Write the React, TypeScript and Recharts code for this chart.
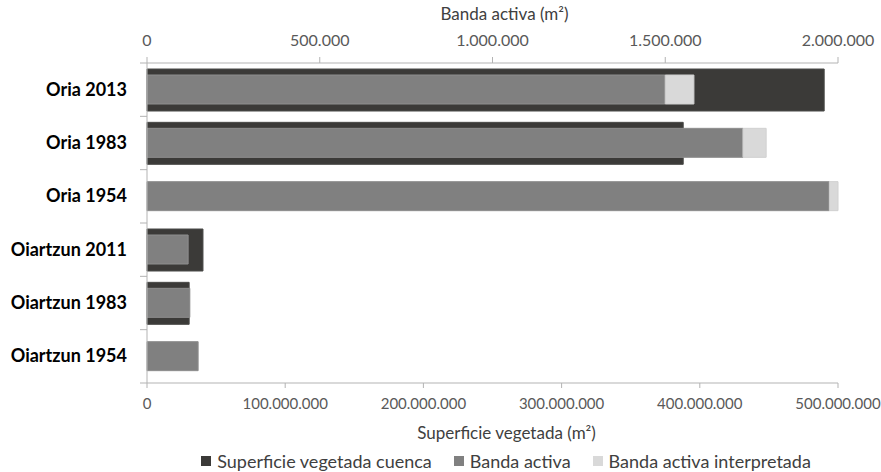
import { BarChart, Bar, XAxis, YAxis, Legend } from 'recharts';

const categories = ['Oria 2013', 'Oria 1983', 'Oria 1954', 'Oiartzun 2011', 'Oiartzun 1983', 'Oiartzun 1954'];
const superficieCuenca = [490000000, 388000000, null, 40500000, 30500000, null];
const bandaActiva = [1500000, 1725000, 1975000, 119000, 124000, 148000];
const bandaInterpretada = [83000, 67000, 25000, 0, 0, 0];
const topTicks = [0, 500000, 1000000, 1500000, 2000000];
const bottomTicks = [0, 100000000, 200000000, 300000000, 400000000, 500000000];
const seriesNames = ['Superficie vegetada cuenca', 'Banda activa', 'Banda activa interpretada'];
const seriesColors = ['#3b3a38', '#808080', '#d9d9d9'];

const data = categories.map((name, i) => ({
  name,
  cuenca: superficieCuenca[i],
  activa: bandaActiva[i],
  interpretada: bandaInterpretada[i],
}));

const FONT = 'Lato, "Open Sans", sans-serif';
const AXIS = '#b3b3b3';
const PLOT_LEFT = 147;
const PLOT_H = 320;
const band = PLOT_H / categories.length;

function fmt(v: number): string {
  return String(v).replace(/\B(?=(\d{3})+(?!\d))/g, '.');
}

function CategoryTick(props: any) {
  const { x, y, payload, index } = props;
  return (
    <g>
      <text x={x} y={y} dy={6} textAnchor="end" fontFamily={FONT} fontSize={18} fontWeight={700} fill="#000">
        {payload.value}
      </text>
      <line x1={PLOT_LEFT - 7} x2={PLOT_LEFT} y1={y + band / 2} y2={y + band / 2} stroke={AXIS} />
      {index === 0 && (
        <line x1={PLOT_LEFT - 7} x2={PLOT_LEFT} y1={y - band / 2} y2={y - band / 2} stroke={AXIS} />
      )}
    </g>
  );
}

function LegendBox() {
  return (
    <div
      style={{
        height: 29,
        display: 'flex',
        justifyContent: 'center',
        alignItems: 'flex-end',
        fontFamily: FONT,
        fontSize: 18,
        lineHeight: '22px',
        color: '#404040',
        marginLeft: 174,
      }}
    >
      {seriesNames.map((n, i) => (
        <span key={n} style={{ display: 'flex', alignItems: 'center', marginRight: i < 2 ? 22 : 0 }}>
          <span style={{ width: 10, height: 10, background: seriesColors[i], marginRight: 6, display: 'inline-block' }} />
          {n}
        </span>
      ))}
    </div>
  );
}

export default function App() {
  return (
    <div style={{ position: 'absolute', left: 0, top: 0, background: '#fff' }}>
      <BarChart
        width={881}
        height={472}
        data={data}
        layout="vertical"
        margin={{ top: 0, right: 43, bottom: 0, left: 0 }}
      >
        <XAxis
          xAxisId="top"
          orientation="top"
          type="number"
          domain={[0, 2000000]}
          ticks={topTicks}
          tickFormatter={fmt}
          height={63}
          tickSize={6}
          tickMargin={11}
          stroke={AXIS}
          tick={{ fill: '#595959', fontSize: 16, fontFamily: FONT }}
          label={{ value: 'Banda activa (m²)', position: 'insideTop', offset: 8, dx: 12, fill: '#404040', fontSize: 17, fontFamily: FONT }}
        />
        <XAxis
          xAxisId="bottom"
          orientation="bottom"
          type="number"
          domain={[0, 500000000]}
          ticks={bottomTicks}
          tickFormatter={fmt}
          height={60}
          tickSize={5}
          tickMargin={10}
          stroke={AXIS}
          tick={{ fill: '#595959', fontSize: 15, fontFamily: FONT }}
          label={{ value: 'Superficie vegetada (m²)', position: 'insideBottom', offset: 4, dx: 14, fill: '#404040', fontSize: 17, fontFamily: FONT }}
        />
        <YAxis
          yAxisId="cat"
          type="category"
          dataKey="name"
          width={PLOT_LEFT}
          tickLine={false}
          tickSize={7}
          tickMargin={13}
          stroke={AXIS}
          tick={<CategoryTick />}
          interval={0}
        />
        <YAxis yAxisId="cat2" type="category" dataKey="name" hide />
        <Legend verticalAlign="bottom" content={<LegendBox />} />
        <Bar
          name={seriesNames[0]}
          dataKey="cuenca"
          xAxisId="bottom"
          yAxisId="cat"
          barSize={42}
          fill={seriesColors[0]}
          stroke="#4a4a48"
          isAnimationActive={false}
        />
        <Bar
          name={seriesNames[1]}
          dataKey="activa"
          xAxisId="top"
          yAxisId="cat2"
          stackId="a"
          barSize={29}
          fill={seriesColors[1]}
          stroke="#8e8e8e"
          isAnimationActive={false}
        />
        <Bar
          name={seriesNames[2]}
          dataKey="interpretada"
          xAxisId="top"
          yAxisId="cat2"
          stackId="a"
          barSize={29}
          fill={seriesColors[2]}
          stroke="#d0d0d0"
          isAnimationActive={false}
        />
      </BarChart>
    </div>
  );
}
